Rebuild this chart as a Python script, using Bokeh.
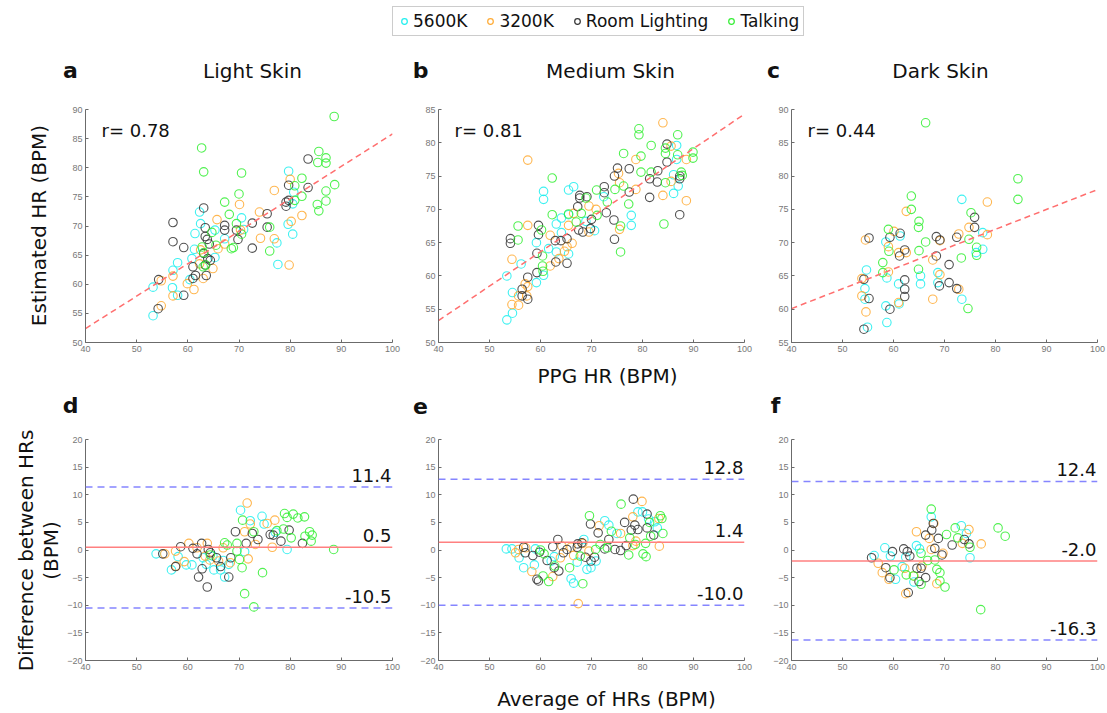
import numpy as np
from bokeh.plotting import figure
from bokeh.layouts import column, row
from bokeh.models import Range1d, FixedTicker, Span, Label, Legend, LegendItem
from bokeh.embed import file_html
from bokeh.resources import INLINE

# ---------------- data ----------------
conditions = ["5600K", "3200K", "Room Lighting", "Talking"]
panel_letters = ["a", "b", "c", "d", "e", "f"]
skin_titles = ["Light Skin", "Medium Skin", "Dark Skin"]
x_ticks = [40, 50, 60, 70, 80, 90, 100]
y_ticks_a = [50, 55, 60, 65, 70, 75, 80, 85, 90]
y_ticks_b = [50, 55, 60, 65, 70, 75, 80, 85]
y_ticks_c = [55, 60, 65, 70, 75, 80, 85, 90]
y_ticks_diff = [-20, -15, -10, -5, 0, 5, 10, 15, 20]
r_values = ["0.78", "0.81", "0.44"]
fit_slope = [0.5567, 0.5167, 0.298]
fit_intercept = [30.13, 32.63, 48.17]
bias = [0.5, 1.4, -2.0]
upper_loa = [11.4, 12.8, 12.4]
lower_loa = [-10.5, -10.0, -16.3]

# Panel a (light skin, estimated vs PPG)
a_5600_x = [53.2,53.2,57.0,57.1,58.0,58.0,60.8,61.3,62.3,62.5,61.4,65.3,65.3,67.2,70.5,70.9,79.7,80.7,80.5,79.6,80.5,77.4,77.6,60.4]
a_5600_y = [54.6,59.5,59.4,62.4,63.7,58.1,64.4,66.0,72.4,70.4,68.7,69.3,64.6,67.8,71.4,69.4,79.4,75.8,73.8,70.3,68.6,67.1,63.4,60.8]
a_3200_x = [54.8,54.8,57.1,57.1,59.9,61.2,62.3,62.5,65.7,65.9,67.2,70.1,70.3,64.9,74.0,74.2,76.9,76.9,80.0,80.2,82.3,79.8,63.0]
a_3200_y = [56.3,60.6,61.4,58.0,60.1,59.1,63.5,65.9,71.1,66.1,66.9,73.7,69.3,62.7,72.4,67.9,76.1,67.8,78.0,70.8,71.8,63.3,61.0]
a_room_x = [54.3,54.2,57.1,57.1,59.2,59.2,63.1,63.4,63.4,63.8,64.2,63.1,61.0,61.5,61.0,63.4,63.9,64.4,63.6,67.2,67.2,69.5,69.8,72.6,72.6,75.5,75.5,79.7,79.2,79.2,79.7,83.5,83.5]
a_room_y = [60.8,55.8,70.6,67.3,66.3,58.1,73.1,69.7,68.2,67.7,66.9,65.3,63.0,61.5,61.0,63.3,64.4,64.1,61.5,70.1,69.3,69.3,67.7,70.5,66.2,72.1,69.8,77.0,74.1,73.4,74.4,81.5,76.6]
a_talk_x = [88.6,62.7,63.1,70.5,70.0,67.2,68.1,85.6,87.0,87.0,85.4,82.3,80.9,88.7,87.0,82.3,87.0,85.3,85.6,80.9,76.0,76.0,69.5,70.5,68.5,68.9,65.5,63.1,63.5,62.8,63.0,64.7]
a_talk_y = [88.8,83.4,79.3,79.1,75.5,74.1,72.0,82.8,81.7,80.8,80.9,78.2,76.9,77.1,76.0,75.1,74.3,73.7,72.6,74.4,69.8,65.7,70.4,68.6,66.1,66.3,66.7,65.4,63.3,66.4,63.0,68.9]

# Panel b (medium skin)
b_5600_x = [53.4,54.5,54.5,56.2,53.4,59.2,59.2,60.6,60.6,60.6,61.6,63.1,63.1,64.1,64.1,65.5,66.5,65.5,65.5,68.9,70.6,72.4,77.8,77.8,86.7,86.7,86.1,87.0,86.1]
b_5600_y = [53.4,54.4,57.5,61.8,60.0,59.0,65.0,72.7,71.5,60.1,64.1,67.8,63.6,68.7,66.5,72.9,73.4,63.3,69.2,68.2,66.8,71.9,69.1,67.6,79.6,77.5,75.2,73.5,72.4]
b_3200_x = [57.5,57.5,54.4,54.4,55.7,55.7,57.0,57.5,57.3,61.9,61.9,63.6,64.7,65.2,66.2,65.5,66.5,69.5,69.5,70.9,75.3,75.5,75.5,78.7,78.7,84.0,84.0,85.6,85.6,88.6,88.6]
b_3200_y = [77.4,67.6,62.5,55.7,57.0,55.6,58.8,58.4,57.0,66.1,61.5,62.6,63.7,64.4,64.9,67.6,69.4,70.5,66.6,70.0,75.4,74.0,67.0,77.5,73.0,83.0,72.1,79.5,74.2,77.5,71.3]
b_room_x = [54.1,54.1,59.6,59.6,59.3,59.3,57.5,56.4,56.4,57.5,62.9,64.0,65.2,65.2,63.0,67.3,67.7,67.7,69.1,67.5,68.3,69.8,70.0,72.5,72.5,72.9,74.5,75.1,74.5,74.4,77.4,77.4,81.4,81.4,83.0,82.9,84.8,84.8,87.3,87.3,87.3]
b_room_y = [65.6,64.9,67.6,66.2,63.4,60.5,59.8,58.0,57.0,56.5,65.3,65.3,65.6,61.9,62.1,70.4,72.1,71.7,71.9,66.9,66.6,67.1,68.5,73.4,72.5,69.5,75.0,76.2,65.5,68.4,76.1,72.6,74.6,71.8,75.8,74.1,79.8,77.1,75.0,74.6,69.2]
b_talk_x = [79.3,79.3,86.9,81.7,76.3,79.7,84.5,84.5,86.9,89.9,89.9,87.6,87.8,81.7,79.7,84.5,62.3,76.3,74.6,71.0,73.1,77.3,62.3,68.0,67.0,71.1,55.6,55.6,60.2,60.4,60.4,60.5,75.7,75.7,84.2,68.9,65.5]
b_talk_y = [82.1,81.2,81.2,79.6,78.4,78.0,79.2,78.4,78.2,78.6,77.7,75.6,75.1,75.6,75.6,74.0,74.7,73.5,73.0,72.9,71.1,70.8,69.2,69.4,68.1,69.1,67.5,65.4,66.9,63.0,61.5,60.7,67.5,63.6,67.8,71.7,69.3]

# Panel c (dark skin)
c_5600_x = [54.7,54.4,54.4,54.9,58.5,58.7,58.5,58.7,61.3,61.0,61.1,65.3,65.3,68.7,68.7,73.4,73.4,77.5,77.5,76.2]
c_5600_y = [65.9,63.1,61.5,57.3,70.1,64.7,60.5,58.0,71.0,63.8,60.8,65.0,63.8,65.5,64.0,76.5,61.5,71.5,69.0,68.5]
c_3200_x = [54.5,53.8,53.8,54.6,60.1,59.0,59.0,62.5,62.5,61.0,61.0,67.7,67.7,69.1,69.1,72.8,72.8,74.8,78.4,78.4]
c_3200_y = [70.4,64.6,62.0,59.6,71.7,69.4,65.6,74.7,68.5,68.5,61.0,67.4,61.5,70.3,65.2,71.3,63.0,72.3,76.1,71.2]
c_room_x = [55.2,54.2,54.2,55.2,59.3,59.3,61.3,61.2,62.2,62.2,62.2,62.2,68.4,69.1,68.4,69.0,70.9,70.9,72.4,72.4,75.9,75.9]
c_room_y = [70.7,64.5,57.0,61.6,70.8,60.0,71.4,68.0,68.9,64.4,63.0,61.9,70.9,70.4,68.0,63.5,66.7,64.0,70.8,63.1,73.8,72.3]
c_talk_x = [66.3,84.4,84.4,63.5,63.5,65.0,64.9,59.0,59.1,57.9,57.9,66.3,65.0,64.9,75.2,74.8,73.3,76.3,76.3,74.6]
c_talk_y = [88.0,79.6,76.5,77.0,75.0,73.2,72.3,72.0,68.7,67.0,65.5,70.1,68.8,66.0,74.5,70.5,67.7,69.3,68.1,60.1]

# Panel d (light skin, Bland-Altman)
d_5600_x = [53.8,56.8,58.1,59.7,60.8,63.0,63.6,65.1,64.9,66.4,67.2,66.9,70.3,72.2,71.1,74.5,74.9,77.1,79.4,68.0]
d_5600_y = [-0.7,-3.6,-1.2,-2.7,-2.7,-1.4,-2.6,-3.6,-1.1,-3.6,-4.9,-1.9,7.2,5.3,-0.3,6.1,4.7,3.2,0.1,-2.6]
d_3200_x = [55.5,57.6,57.7,59.3,60.2,61.8,63.8,63.4,64.3,66.0,66.9,68.3,71.6,71.1,72.2,71.8,73.2,75.5,77.0,76.5]
d_3200_y = [-0.7,-0.2,-2.9,-2.1,1.2,0.4,1.2,-1.1,-1.8,-2.0,0.4,-2.3,8.5,3.3,4.7,-1.6,1.0,4.8,5.4,0.5]
d_room_x = [55.1,57.6,58.6,61.0,61.8,62.1,62.7,62.8,63.8,64.0,64.4,65.6,66.4,68.0,68.4,69.3,71.4,72.6,73.7,76.1,76.7,78.2,79.8,82.4]
d_room_y = [-0.7,-3.0,0.6,0.3,-0.7,-4.9,1.2,-3.4,-6.7,0.1,-0.5,-1.4,-3.0,-4.9,-1.4,3.3,1.2,3.0,1.9,2.8,2.7,1.6,3.6,1.2]
d_talk_x = [67.2,67.7,69.6,69.6,70.1,70.7,70.6,71.1,72.9,72.9,74.6,77.4,78.7,78.9,79.4,80.2,80.6,81.5,82.8,82.9,83.8,84.3,84.1,88.5,64.4]
d_talk_y = [1.3,0.9,1.2,-0.2,-1.7,5.4,-3.2,-7.9,-10.3,3.3,-4.1,3.5,3.8,6.6,5.9,2.2,6.5,5.8,6.0,2.5,3.3,2.7,1.6,0.1,-0.9]

# Panel e (medium skin, Bland-Altman)
e_5600_x = [53.3,54.4,55.8,56.7,58.8,59.0,62.1,62.7,66.0,66.5,67.2,68.5,69.1,69.9,72.6,73.4,75.0,79.1,80.0,81.2,82.4,82.9,70.9]
e_5600_y = [0.2,0.2,-1.4,-3.2,-2.7,0.2,-2.0,-1.2,-5.2,-6.0,-2.2,1.9,-3.5,-3.2,5.3,4.5,3.0,6.9,6.9,5.6,5.1,4.0,-2.0]
e_3200_x = [55.1,55.7,57.1,58.3,62.4,63.9,64.2,66.0,66.5,67.4,68.3,69.5,71.5,75.7,78.1,78.1,79.9,78.7,83.2,83.3]
e_3200_y = [-0.5,0.1,0.4,-3.9,-4.8,-1.4,0.7,0.5,-1.0,-9.7,1.2,-0.2,4.4,3.0,6.0,0.8,8.8,1.6,5.7,0.7]
e_room_x = [56.7,57.0,58.5,59.3,59.6,59.8,61.3,62.4,62.7,63.4,63.6,64.5,65.2,67.2,67.3,68.1,68.8,69.8,69.9,70.6,71.3,72.6,73.4,74.6,75.7,76.5,76.8,78.2,77.8,78.5,79.1,80.9,80.9,82.2]
e_room_y = [0.5,-0.5,-1.0,-5.3,-5.6,-0.4,-1.9,0.6,-3.2,1.9,-3.8,-0.5,0.1,0.5,1.1,1.3,-1.3,4.7,-2.0,-1.3,3.1,0.2,1.9,0.1,-0.1,5.0,0.8,9.2,3.6,4.5,3.7,6.5,4.0,2.7]
e_talk_x = [60.0,60.7,60.5,61.6,62.8,65.7,68.3,69.6,70.8,71.7,73.1,73.9,75.8,77.3,77.5,78.6,80.1,80.6,80.7,81.4,81.6,83.5,83.8,84.0,67.8]
e_talk_y = [0.0,-0.7,-4.7,-5.7,-2.9,-3.2,-6.1,6.2,0.1,1.0,0.4,3.4,8.3,-0.9,2.2,1.0,-0.7,1.2,-1.2,5.0,2.5,6.2,5.7,3.0,-1.1]

# Panel f (dark skin, Bland-Altman)
f_5600_x = [56.2,58.3,59.4,60.4,61.7,62.4,64.5,65.1,64.0,67.4,73.3,74.3,75.0]
f_5600_y = [-1.0,0.4,-1.1,-5.3,-3.0,-1.3,0.8,0.2,-5.8,6.0,4.4,3.0,-1.4]
f_3200_x = [57.0,57.8,59.1,62.2,62.4,64.5,64.0,65.6,67.0,67.4,67.9,68.5,69.7,73.5,74.8,77.2]
f_3200_y = [-2.4,-4.1,-5.3,-3.3,-7.9,3.3,-4.7,-2.9,2.1,0.1,4.8,-6.1,-0.6,1.2,3.7,1.1]
f_room_x = [55.7,58.5,59.3,59.8,62.0,62.7,63.2,62.9,64.6,65.4,65.0,66.3,66.3,67.5,67.8,68.1,68.8,69.5,71.5,73.9,74.8]
f_room_y = [-1.4,-3.2,-5.0,-0.3,0.2,-0.3,-1.1,-7.7,-3.3,-3.3,-5.7,-5.0,2.7,3.6,4.8,0.3,2.1,-0.9,0.9,1.9,1.1]
f_talk_x = [60.1,62.5,63.9,65.4,65.4,67.4,66.7,68.1,68.5,69.1,69.1,70.1,70.4,72.1,72.6,75.0,77.1,80.5,81.9]
f_talk_y = [-3.6,-4.5,-4.7,-6.2,-0.6,7.4,-1.9,-1.8,-3.5,-4.1,-5.6,-6.7,2.8,4.0,2.2,0.5,-10.8,4.0,2.5]

# ---------------- styling ----------------
COLORS = ["#1FEFEF", "#FFAA33", "#333333", "#33EE33"]
FONT = "DejaVu Sans"
TICK_FONT = "Liberation Sans"
TXT = "#111111"

panel_data = {
    "a": [(a_5600_x, a_5600_y), (a_3200_x, a_3200_y), (a_room_x, a_room_y), (a_talk_x, a_talk_y)],
    "b": [(b_5600_x, b_5600_y), (b_3200_x, b_3200_y), (b_room_x, b_room_y), (b_talk_x, b_talk_y)],
    "c": [(c_5600_x, c_5600_y), (c_3200_x, c_3200_y), (c_room_x, c_room_y), (c_talk_x, c_talk_y)],
    "d": [(d_5600_x, d_5600_y), (d_3200_x, d_3200_y), (d_room_x, d_room_y), (d_talk_x, d_talk_y)],
    "e": [(e_5600_x, e_5600_y), (e_3200_x, e_3200_y), (e_room_x, e_room_y), (e_talk_x, e_talk_y)],
    "f": [(f_5600_x, f_5600_y), (f_3200_x, f_3200_y), (f_room_x, f_room_y), (f_talk_x, f_talk_y)],
}
top_yticks = [y_ticks_a, y_ticks_b, y_ticks_c]

LEFT_W = 62
FW = [307, 306, 306]
BL = [23, 36, 37]
BR = 10
RIGHT_W = sum(FW) + sum(BL) + 3 * BR  # 1045


def strip(w, h):
    s = figure(width=w, height=h, min_border=0,
               x_range=Range1d(0, w), y_range=Range1d(0, h),
               output_backend="svg", toolbar_location=None)
    s.axis.visible = False
    s.grid.visible = False
    s.outline_line_color = None
    return s


def txt(p, x, y, text, size="20px", bold=False, angle=0.0, align="center"):
    p.add_layout(Label(x=x, y=y, text=text, text_font=FONT, text_font_size=size,
                       text_font_style="bold" if bold else "normal",
                       text_color=TXT, angle=angle, text_baseline="middle",
                       text_align=align))


def style_axes(p, yticks):
    p.grid.visible = False
    p.outline_line_color = None
    p.xaxis.ticker = FixedTicker(ticks=x_ticks)
    p.yaxis.ticker = FixedTicker(ticks=yticks)
    for ax in p.axis:
        ax.axis_line_color = "#6b6b6b"
        ax.major_tick_line_color = "#6b6b6b"
        ax.major_tick_in = 3
        ax.major_tick_out = 0
        ax.minor_tick_line_color = None
        ax.major_label_text_color = "#777777"
        ax.major_label_text_font = TICK_FONT
        ax.major_label_text_font_size = "9px"
        ax.major_label_standoff = 3


def add_points(p, key):
    for (xs, ys), col in zip(panel_data[key], COLORS):
        p.scatter(xs, ys, marker="circle", size=8.5, fill_color=None,
                  line_color=col, line_width=1.1, line_alpha=0.85)


def top_panel(i):
    yt = top_yticks[i]
    p = figure(frame_width=FW[i], frame_height=233,
               min_border_left=BL[i], min_border_right=BR,
               min_border_top=5, min_border_bottom=15,
               x_range=Range1d(x_ticks[0], x_ticks[-1]),
               y_range=Range1d(yt[0], yt[-1]),
               output_backend="svg", toolbar_location=None)
    style_axes(p, yt)
    add_points(p, panel_letters[i])
    xs = np.array([x_ticks[0], x_ticks[-1]], dtype=float)
    p.line(xs, fit_intercept[i] + fit_slope[i] * xs, line_color="#FF6F6F",
           line_width=1.5, line_dash="6 4")
    p.add_layout(Label(x=16, y=212, x_units="screen", y_units="screen",
                       text="r= " + r_values[i], text_font=FONT, text_font_size="18px",
                       text_color=TXT, text_baseline="middle", text_align="left"))
    return p


def bottom_panel(i):
    key = panel_letters[i + 3]
    p = figure(frame_width=FW[i], frame_height=221,
               min_border_left=BL[i], min_border_right=BR,
               min_border_top=5, min_border_bottom=15,
               x_range=Range1d(x_ticks[0], x_ticks[-1]),
               y_range=Range1d(y_ticks_diff[0], y_ticks_diff[-1]),
               output_backend="svg", toolbar_location=None)
    style_axes(p, y_ticks_diff)
    add_points(p, key)
    p.add_layout(Span(location=upper_loa[i], dimension="width", line_color="#8585FF",
                      line_width=1.5, line_dash="7 5"))
    p.add_layout(Span(location=lower_loa[i], dimension="width", line_color="#8585FF",
                      line_width=1.5, line_dash="7 5"))
    p.add_layout(Span(location=bias[i], dimension="width", line_color="#FF8080",
                      line_width=1.5))
    for val in (upper_loa[i], bias[i], lower_loa[i]):
        p.add_layout(Label(x=FW[i] - 1, y=val, x_units="screen", y_units="data",
                           text="%.1f" % val, text_font=FONT, text_font_size="18px",
                           text_color=TXT, text_baseline="bottom",
                           text_align="right", y_offset=5))
    return p


# header with legend
header = strip(1107, 50)
items = []
for name, col in zip(conditions, COLORS):
    r = header.scatter([-10], [-10], marker="circle", size=9, fill_color=None,
                       line_color=col, line_width=1.2)
    items.append(LegendItem(label=name, renderers=[r]))
leg = Legend(items=items, orientation="horizontal", location=(392, 14),
             glyph_width=14, glyph_height=14, label_standoff=2, spacing=16,
             padding=4, margin=0, label_text_font=FONT, label_text_font_size="17px",
             label_text_color=TXT, border_line_color="#9a9a9a",
             border_line_width=1, background_fill_color="white")
header.add_layout(leg, "center")

# left strip with y-axis titles
left = strip(LEFT_W, 663)
txt(left, 38, 488, "Estimated HR (BPM)", angle=np.pi / 2)
txt(left, 25, 163, "Difference between HRs", angle=np.pi / 2)
txt(left, 50, 163, "(BPM)", angle=np.pi / 2)

# titles strip
titles = strip(RIGHT_W, 54)
for lx, tx, letter, title in zip([8, 358, 711], [190, 548, 878], panel_letters[:3], skin_titles):
    txt(titles, lx, 34, letter, size="22px", bold=True)
    txt(titles, tx, 34, title)

# middle strip: x title of top row and letters of bottom row
mid = strip(RIGHT_W, 77)
txt(mid, 545, 59, "PPG HR (BPM)")
for lx, letter in zip([8, 358, 713], panel_letters[3:]):
    txt(mid, lx, 29, letter, size="22px", bold=True)

# bottom strip
bot = strip(RIGHT_W, 38)
txt(bot, 544, 15, "Average of HRs (BPM)")

right = column(titles,
               row(*[top_panel(i) for i in range(3)]),
               mid,
               row(*[bottom_panel(i) for i in range(3)]),
               bot)
layout = column(header, row(left, right))

open("out.html", "w").write(file_html(layout, INLINE))
